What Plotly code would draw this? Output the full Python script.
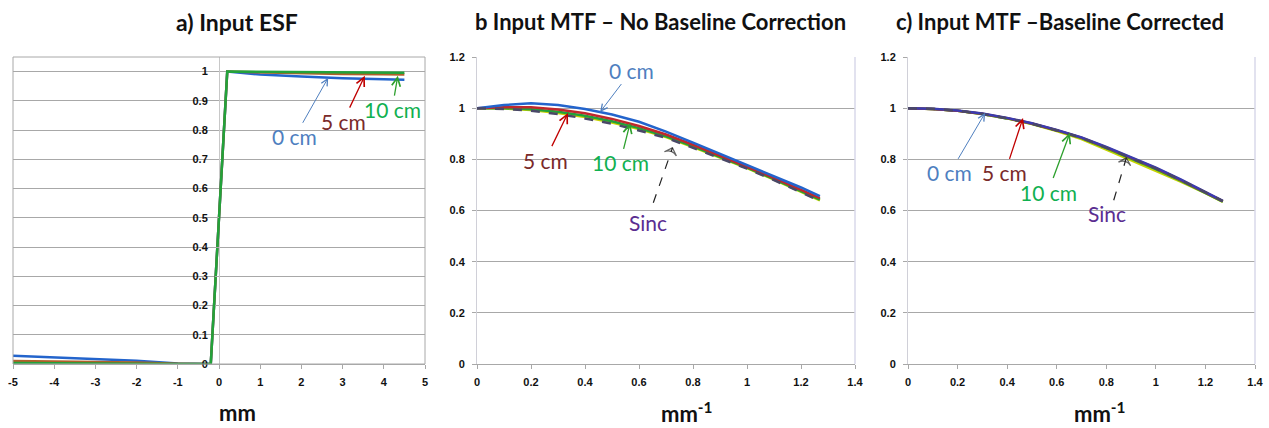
import plotly.graph_objects as go

# ---------------- data ----------------
# Panel a: ESF
esf_x = [-5, -4, -3, -2, -1, -0.6, -0.2, 0.2, 1, 2, 3, 4, 4.5]
esf_0cm = [0.028, 0.023, 0.017, 0.011, 0.002, 0.0, 0.0, 1.0, 0.99, 0.983, 0.977, 0.974, 0.972]
esf_5cm = [0.01, 0.009, 0.007, 0.005, 0.001, 0.0, 0.0, 1.0, 0.997, 0.994, 0.992, 0.991, 0.99]
esf_10cm = [0.003, 0.003, 0.002, 0.001, 0.0, 0.0, 0.0, 1.0, 0.999, 0.998, 0.997, 0.997, 0.996]

# Panels b, c: MTF
freq = [0, 0.1, 0.2, 0.3, 0.4, 0.5, 0.6, 0.7, 0.8, 0.9, 1.0, 1.1, 1.2, 1.27]
sinc = [1.0, 0.997, 0.990, 0.977, 0.960, 0.939, 0.913, 0.884, 0.845, 0.806, 0.764, 0.719, 0.671, 0.637]

b_0cm = [1.0, 1.012, 1.019, 1.012, 0.997, 0.975, 0.947, 0.908, 0.865, 0.822, 0.778, 0.734, 0.69, 0.656]
b_5cm = [1.0, 1.004, 1.004, 0.995, 0.98, 0.958, 0.93, 0.897, 0.857, 0.815, 0.771, 0.727, 0.682, 0.648]
b_10cm = [1.0, 1.0, 0.996, 0.986, 0.97, 0.949, 0.922, 0.89, 0.851, 0.811, 0.768, 0.723, 0.677, 0.643]
b_other = [1.0, 0.999, 0.993, 0.981, 0.965, 0.944, 0.918, 0.887, 0.848, 0.808, 0.766, 0.721, 0.674, 0.64]

c_0cm = [1.0, 0.998, 0.991, 0.979, 0.962, 0.941, 0.915, 0.886, 0.849, 0.81, 0.768, 0.722, 0.674, 0.638]
c_5cm = [1.0, 0.997, 0.99, 0.978, 0.961, 0.94, 0.914, 0.885, 0.847, 0.808, 0.766, 0.72, 0.672, 0.637]
c_10cm = [1.0, 0.997, 0.99, 0.977, 0.96, 0.939, 0.913, 0.883, 0.844, 0.804, 0.762, 0.717, 0.67, 0.635]
c_other = [1.0, 0.997, 0.99, 0.977, 0.96, 0.938, 0.911, 0.879, 0.838, 0.797, 0.756, 0.713, 0.668, 0.634]

# tick labels
esf_xticks = [-5, -4, -3, -2, -1, 0, 1, 2, 3, 4, 5]
esf_xticklabels = ["-5", "-4", "-3", "-2", "-1", "0", "1", "2", "3", "4", "5"]
esf_yticks = [0, 0.1, 0.2, 0.3, 0.4, 0.5, 0.6, 0.7, 0.8, 0.9, 1]
mtf_xticks = [0, 0.2, 0.4, 0.6, 0.8, 1, 1.2, 1.4]
mtf_yticks = [0, 0.2, 0.4, 0.6, 0.8, 1, 1.2]

titles = ["a) Input ESF", "b Input MTF – No Baseline Correction", "c) Input MTF –Baseline Corrected"]
xtitles = ["mm", "mm<sup>-1</sup>", "mm<sup>-1</sup>"]

# ---------------- style ----------------
BLUE = "#2364cc"
RED = "#c0282c"
GREEN = "#22a23a"
YELLOW = "#c8d200"
SINC = "#4a4868"
ORANGE = "#b0602a"

TICKFONT = dict(family="Liberation Sans Narrow, Arial Narrow, Liberation Sans, sans-serif",
                size=11, color="#111111", weight="bold")
LABFONT = "Lato, Open Sans, sans-serif"
GRID = "#a8a8a8"

dom_a = [13 / 1269, 425 / 1269]
dom_b = [477 / 1269, 855 / 1269]
dom_c = [908 / 1269, 1255 / 1269]
dom_y = [1 - 364 / 428, 1 - 57 / 428]

fig = go.Figure()

# panel a
fig.add_trace(go.Scatter(x=esf_x, y=esf_0cm, mode="lines", line=dict(color=BLUE, width=2.5), xaxis="x", yaxis="y"))
fig.add_trace(go.Scatter(x=esf_x, y=esf_5cm, mode="lines", line=dict(color=ORANGE, width=2.5), xaxis="x", yaxis="y"))
fig.add_trace(go.Scatter(x=esf_x, y=esf_10cm, mode="lines", line=dict(color=GREEN, width=2.5), xaxis="x", yaxis="y"))

# panel b
for ys, col in [(b_other, YELLOW), (b_10cm, GREEN), (b_5cm, RED), (b_0cm, BLUE)]:
    fig.add_trace(go.Scatter(x=freq, y=ys, mode="lines", line=dict(color=col, width=2.5), xaxis="x2", yaxis="y2"))
fig.add_trace(go.Scatter(x=freq, y=sinc, mode="lines", line=dict(color=SINC, width=2.5, dash="dash"), xaxis="x2", yaxis="y2"))

# panel c
for ys, col in [(c_other, YELLOW), (c_10cm, GREEN), (c_5cm, RED), (c_0cm, "#3a3cb0")]:
    fig.add_trace(go.Scatter(x=freq, y=ys, mode="lines", line=dict(color=col, width=2.5), xaxis="x3", yaxis="y3"))
fig.add_trace(go.Scatter(x=freq, y=sinc, mode="lines", line=dict(color=SINC, width=2.5, dash="dash"), xaxis="x3", yaxis="y3"))

common_x = dict(showgrid=False, ticks="outside", ticklen=4, tickcolor=GRID, tickfont=TICKFONT,
                showline=True, linecolor=GRID, linewidth=1, ticklabelstandoff=4, automargin=False)
common_y = dict(showgrid=True, gridcolor=GRID, gridwidth=1, tickfont=TICKFONT, zeroline=False,
                ticks="outside", ticklen=4, tickcolor=GRID, ticklabelstandoff=5, automargin=False)

fig.update_layout(
    width=1269, height=428,
    margin=dict(l=0, r=0, t=0, b=0, autoexpand=False),
    paper_bgcolor="white", plot_bgcolor="white",
    showlegend=False,
    xaxis=dict(domain=dom_a, range=[-5, 5], tickvals=esf_xticks, ticktext=esf_xticklabels,
               zeroline=True, zerolinecolor="#c8c8c8", zerolinewidth=1, anchor="y", **common_x),
    yaxis=dict(domain=dom_y, range=[0, 1.05], tickvals=esf_yticks, anchor="free",
               position=(dom_a[0] + dom_a[1]) / 2, showline=False, **common_y),
    xaxis2=dict(domain=dom_b, range=[0, 1.4], tickvals=mtf_xticks, anchor="y2", zeroline=False, **common_x),
    yaxis2=dict(domain=dom_y, range=[0, 1.2], tickvals=mtf_yticks, anchor="x2",
                showline=True, linecolor="#d0d0d8", **common_y),
    xaxis3=dict(domain=dom_c, range=[0, 1.4], tickvals=mtf_xticks, anchor="y3", zeroline=False, **common_x),
    yaxis3=dict(domain=dom_y, range=[0, 1.2], tickvals=mtf_yticks, anchor="x3",
                showline=True, linecolor="#d0d0d8", **common_y),
)

shapes = []
# right border lines for b and c
for xr, yr in [("x2 domain", "y2 domain"), ("x3 domain", "y3 domain")]:
    shapes.append(dict(type="line", xref=xr, yref=yr, x0=1, x1=1, y0=0, y1=1,
                       line=dict(color="#d8d8ea", width=1.5)))
# border around panel a
shapes.append(dict(type="rect", xref="x domain", yref="y domain", x0=0, x1=1, y0=0, y1=1,
                   line=dict(color=GRID, width=1)))

annotations = []
title_x = [237, 660, 1060]
title_sizes = [23, 22, 22]
for t, px, fs in zip(titles, title_x, title_sizes):
    annotations.append(dict(text=t, x=px / 1269, y=1 - 22 / 428, xref="paper", yref="paper",
                            showarrow=False, xanchor="center", yanchor="middle",
                            font=dict(family=LABFONT, size=fs, color="#111111", weight="bold")))
xt_x = [237, 687, 1100]
for t, px in zip(xtitles, xt_x):
    annotations.append(dict(text=t, x=px / 1269, y=1 - 412 / 428, xref="paper", yref="paper",
                            showarrow=False, xanchor="center", yanchor="middle",
                            font=dict(family=LABFONT, size=22, color="#111111", weight="bold")))

C0_TXT, C5_TXT, C10_TXT, SINC_TXT = "#4f7fbf", "#7a2a2a", "#10b050", "#5a2d91"
C0_ARR, C5_ARR, C10_ARR = "#4f7fbf", "#c00000", "#2ea02e"

def label(xr, yr, text, tx, ty, hx, hy, tcol, acol, aw=1.3):
    annotations.append(dict(text=text, x=hx, y=hy, ax=tx, ay=ty, xref=xr, yref=yr, axref=xr, ayref=yr,
                            showarrow=True, arrowhead=5, arrowsize=1.3, arrowwidth=aw, arrowcolor=acol,
                            font=dict(family=LABFONT, size=21, color=tcol)))

def sinc_label(xa, ya, tx, ty, sx, sy, hx, hy):
    annotations.append(dict(text="Sinc", x=tx, y=ty, xref=xa, yref=ya, showarrow=False,
                            font=dict(family=LABFONT, size=21, color=SINC_TXT)))
    fig.add_trace(go.Scatter(x=[sx, hx], y=[sy, hy], mode="lines+markers",
                             line=dict(color="#222222", width=1.2, dash="dash"),
                             marker=dict(symbol=["circle", "arrow-wide-open"], size=[0, 9],
                                         angleref="previous", color="#222222",
                                         line=dict(color="#222222", width=1.3)),
                             xaxis=xa, yaxis=ya, hoverinfo="skip"))

# panel a labels
label("x", "y", "0 cm", 1.84, 0.777, 2.65, 0.979, C0_TXT, C0_ARR, 1.0)
label("x", "y", "5 cm", 3.01, 0.829, 3.54, 0.986, C5_TXT, C5_ARR)
label("x", "y", "10 cm", 4.2, 0.87, 4.34, 0.986, C10_TXT, C10_ARR)
# panel b labels
label("x2", "y2", "0 cm", 0.574, 1.149, 0.456, 0.985, C0_TXT, C0_ARR, 1.0)
label("x2", "y2", "5 cm", 0.252, 0.797, 0.337, 0.981, C5_TXT, C5_ARR)
label("x2", "y2", "10 cm", 0.53, 0.786, 0.567, 0.942, C10_TXT, C10_ARR)
sinc_label("x2", "y2", 0.633, 0.555, 0.653, 0.63, 0.724, 0.845)
# panel c labels
label("x3", "y3", "0 cm", 0.169, 0.747, 0.311, 0.981, C0_TXT, C0_ARR, 1.0)
label("x3", "y3", "5 cm", 0.391, 0.747, 0.464, 0.962, C5_TXT, C5_ARR)
label("x3", "y3", "10 cm", 0.565, 0.672, 0.653, 0.903, C10_TXT, C10_ARR)
sinc_label("x3", "y3", 0.803, 0.59, 0.83, 0.64, 0.881, 0.806)

fig.update_layout(shapes=shapes, annotations=annotations)
fig.write_html("out.html", config={"displayModeBar": False},
               post_script="document.body.style.margin='0';document.body.style.padding='0';")
